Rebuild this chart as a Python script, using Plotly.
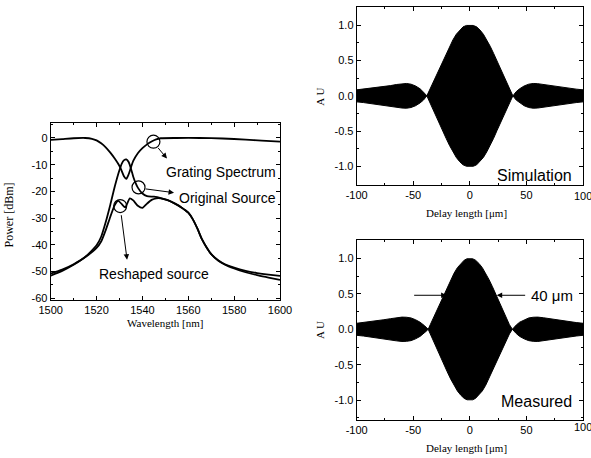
import plotly.graph_objects as go

W, H = 591, 458

# ---- Spectra: wavelength (nm) -> power (dBm) ----
grating_wl = [1500, 1505, 1510, 1515, 1518, 1520, 1522, 1524, 1526, 1528, 1530, 1531,
              1532, 1533, 1534, 1535, 1536, 1538, 1540, 1542, 1544, 1546, 1548, 1555,
              1565, 1575, 1585, 1592, 1600]
grating_db = [-0.7, -0.4, -0.1, 0.0, -0.3, -0.9, -2.0, -3.5, -5.5, -7.8, -10.5, -12.4,
              -14.4, -15.3, -13.6, -11.0, -8.6, -5.7, -3.8, -2.4, -1.3, -0.5, -0.1, 0.0,
              0.0, -0.2, -0.6, -1.0, -1.4]

source_wl = [1500, 1505, 1510, 1515, 1520, 1522, 1524, 1526, 1528, 1530, 1531, 1532,
             1533, 1534, 1535, 1536, 1537, 1538, 1540, 1542, 1545, 1548, 1551, 1554,
             1557, 1560, 1562, 1564, 1566, 1568, 1570, 1573, 1576, 1580, 1585, 1590,
             1595, 1600]
source_db = [-50.8, -49.3, -47.3, -44.6, -40.2, -37.0, -31.5, -25.0, -18.0, -12.0, -9.6,
             -8.3, -8.0, -9.0, -11.5, -14.5, -16.8, -18.6, -20.8, -21.8, -22.0, -22.5,
             -23.3, -24.5, -26.0, -28.0, -30.5, -34.0, -38.0, -41.0, -43.5, -45.8, -47.3,
             -48.6, -49.8, -50.6, -51.2, -51.7]

reshaped_wl = [1500, 1505, 1510, 1515, 1520, 1522, 1524, 1526, 1528, 1529.5, 1531,
               1532.5, 1534.5, 1536, 1538, 1540, 1542, 1544, 1546, 1548, 1551, 1554,
               1557, 1560, 1562, 1564, 1566, 1568, 1570, 1573, 1576, 1580, 1585, 1590,
               1595, 1600]
reshaped_db = [-51.6, -49.8, -47.5, -44.7, -41.2, -38.8, -34.5, -29.5, -25.0, -23.6,
               -24.8, -26.0, -22.6, -23.4, -25.4, -26.2, -24.6, -23.2, -22.6, -22.6,
               -23.3, -24.5, -26.0, -28.0, -30.5, -34.0, -38.0, -41.0, -43.5, -45.9,
               -47.5, -48.9, -50.3, -51.4, -52.3, -53.2]

# ---- Interferogram envelopes: delay (um) -> AU (upper edge; lower edge mirrored) ----
sim_delay = [-100, -94, -88, -82, -76, -70, -65, -60, -56, -52, -48, -44, -41, -39, -38,
             -36, -33, -30, -27, -24, -21, -18, -15, -12, -9, -6, -3, 0,
             3, 6, 9, 12, 15, 18, 21, 24, 27, 30, 33, 36, 38, 39, 41, 44, 48, 52, 56,
             60, 65, 70, 76, 82, 88, 94, 100]
sim_env = [0.085, 0.095, 0.11, 0.12, 0.13, 0.145, 0.16, 0.172, 0.175, 0.165, 0.14, 0.10,
           0.06, 0.02, 0.0, 0.07, 0.17, 0.28, 0.39, 0.49, 0.60, 0.70, 0.79, 0.87, 0.93,
           0.975, 0.995, 1.0,
           0.995, 0.975, 0.93, 0.87, 0.79, 0.70, 0.60, 0.49, 0.39, 0.28, 0.17, 0.07,
           0.0, 0.02, 0.06, 0.10, 0.14, 0.165, 0.175, 0.172, 0.16, 0.145, 0.13, 0.12,
           0.11, 0.095, 0.085]

meas_delay = [-100, -94, -88, -82, -76, -70, -65, -60, -56, -52, -48, -44, -40, -38, -36.8,
              -35, -32, -29, -26, -23, -20, -17, -14, -11, -8, -5, -2.5, 0,
              2.5, 5, 8, 11, 14, 17, 20, 23, 26, 29, 32, 35, 37.6, 39, 41, 44, 48, 52,
              56, 60, 65, 70, 76, 82, 88, 94, 100]
meas_env = [0.085, 0.095, 0.11, 0.12, 0.135, 0.15, 0.163, 0.172, 0.17, 0.16, 0.135, 0.10,
            0.05, 0.02, 0.0, 0.065, 0.17, 0.28, 0.39, 0.49, 0.60, 0.70, 0.79, 0.87, 0.93,
            0.975, 0.995, 1.0,
            0.995, 0.975, 0.93, 0.87, 0.79, 0.70, 0.60, 0.49, 0.39, 0.28, 0.17, 0.065,
            0.0, 0.03, 0.06, 0.10, 0.135, 0.16, 0.17, 0.172, 0.163, 0.15, 0.135, 0.12,
            0.11, 0.095, 0.085]

# ---- Tick labels ----
wl_ticks = [1500, 1520, 1540, 1560, 1580, 1600]
wl_labels = ["1500", "1520", "1540", "1560", "1580", "1600"]
pw_ticks = [0, -10, -20, -30, -40, -50, -60]
pw_labels = ["0", "-10", "-20", "-30", "-40", "-50", "-60"]
dl_ticks = [-100, -50, 0, 50, 100]
dl_labels = ["-100", "-50", "0", "50", "100"]
au_ticks = [1.0, 0.5, 0.0, -0.5, -1.0]
au_labels = ["1.0", "0.5", "0.0", "-0.5", "-1.0"]

# Marker positions for the callout circles on the spectra
grating_mark = (1544.8, -1.4)
source_mark = (1538.3, -18.5)
reshaped_mark = (1530.3, -25.5)

fig = go.Figure()

line_style = dict(color="black", width=1.8, shape="spline", smoothing=0.6)
fig.add_trace(go.Scatter(x=grating_wl, y=grating_db, mode="lines", line=line_style,
                         xaxis="x", yaxis="y", showlegend=False))
fig.add_trace(go.Scatter(x=source_wl, y=source_db, mode="lines", line=line_style,
                         xaxis="x", yaxis="y", showlegend=False))
fig.add_trace(go.Scatter(x=reshaped_wl, y=reshaped_db, mode="lines", line=line_style,
                         xaxis="x", yaxis="y", showlegend=False))
fig.add_trace(go.Scatter(
    x=[grating_mark[0], source_mark[0], reshaped_mark[0]],
    y=[grating_mark[1], source_mark[1], reshaped_mark[1]],
    mode="markers", xaxis="x", yaxis="y", showlegend=False,
    marker=dict(symbol="circle-open", size=13, color="black", line=dict(width=1.2))))


def envelope(delay, env):
    xs = list(delay) + list(delay[::-1])
    ys = list(env) + [-v for v in env[::-1]]
    return xs, ys


for (d, e), ax in (((sim_delay, sim_env), "2"), ((meas_delay, meas_env), "3")):
    xs, ys = envelope(d, e)
    fig.add_trace(go.Scatter(x=xs, y=ys, mode="lines", fill="toself",
                             fillcolor="black", line=dict(color="black", width=1),
                             xaxis="x" + ax, yaxis="y" + ax, showlegend=False))

tickfont = dict(family="Liberation Sans, Arial", size=11, color="black")
common = dict(showline=True, linecolor="black", linewidth=1, mirror="ticks",
              ticks="inside", ticklen=4, tickcolor="black", showgrid=False,
              zeroline=False, tickmode="array", tickfont=tickfont, automargin=False)


def px(x):
    return x / W


def py(y):
    return 1 - y / H


fig.update_layout(
    width=W, height=H, margin=dict(l=0, r=0, t=0, b=0),
    paper_bgcolor="white", plot_bgcolor="white",
    xaxis=dict(domain=[px(50.7), px(280)], range=[1500, 1600], tickvals=wl_ticks,
               ticktext=wl_labels, anchor="y",
               minor=dict(ticks="inside", ticklen=2, dtick=10, tick0=1500,
                          tickcolor="black"), **common),
    yaxis=dict(domain=[py(300), py(123.3)], range=[-60.7, 5.5], tickvals=pw_ticks,
               ticktext=pw_labels, anchor="x",
               minor=dict(ticks="inside", ticklen=2, dtick=5, tick0=0,
                          tickcolor="black"), **common),
    xaxis2=dict(domain=[px(356.7), px(583)], range=[-100, 100], tickvals=dl_ticks,
                ticktext=dl_labels, anchor="y2",
                minor=dict(ticks="inside", ticklen=2, dtick=25, tick0=0,
                           tickcolor="black"), **common),
    yaxis2=dict(domain=[py(185), py(6.7)], range=[-1.26, 1.26], tickvals=au_ticks,
                ticktext=au_labels, anchor="x2",
                minor=dict(ticks="inside", ticklen=2, dtick=0.25, tick0=0,
                           tickcolor="black"), **common),
    xaxis3=dict(domain=[px(356.7), px(583)], range=[-100, 100], tickvals=dl_ticks,
                ticktext=dl_labels, anchor="y3",
                minor=dict(ticks="inside", ticklen=2, dtick=25, tick0=0,
                           tickcolor="black"), **common),
    yaxis3=dict(domain=[py(420), py(240)], range=[-1.28, 1.26], tickvals=au_ticks,
                ticktext=au_labels, anchor="x3",
                minor=dict(ticks="inside", ticklen=2, dtick=0.25, tick0=0,
                           tickcolor="black"), **common),
)

serif = dict(family="Liberation Serif, Times New Roman", size=11, color="black")
serif_big = dict(family="Liberation Serif, Times New Roman", size=12, color="black")
label = dict(family="Liberation Sans, Arial", size=14, color="black")
big = dict(family="Liberation Sans, Arial", size=16, color="black")

annotations = [
    # axis titles
    dict(text="Power [dBm]", x=px(8.5), y=py(215), textangle=-90, font=serif_big),
    dict(text="Wavelength [nm]", x=px(165), y=py(323), font=serif),
    dict(text="A U", x=px(320), y=py(96.7), textangle=-90, font=serif),
    dict(text="Delay length [\u03bcm]", x=px(466), y=py(213), font=serif),
    dict(text="A U", x=px(320), y=py(330), textangle=-90, font=serif),
    dict(text="Delay length [\u03bcm]", x=px(466), y=py(448), font=serif),
    # callout texts
    dict(text="Grating Spectrum", x=px(220.5), y=py(172), font=label),
    dict(text="Original Source", x=px(227), y=py(197.5), font=label),
    dict(text="Reshaped source", x=px(153.5), y=py(274), font=label),
    dict(text="Simulation", x=px(534), y=py(175), font=big),
    dict(text="Measured", x=px(536), y=py(401.5), font=big),
    dict(text="40 \u03bcm", x=px(552), y=py(295), font=dict(family="Liberation Sans, Arial",
                                                           size=15, color="black")),
]
for a in annotations:
    a.update(xref="paper", yref="paper", showarrow=False, xanchor="center",
             yanchor="middle")

# The last delay tick label runs past the page edge; draw it as free text so it
# is cut by the page rather than dropped by the axis.
for xr, ylab in (("x2", 195.5), ("x3", 426.5)):
    annotations.append(dict(text=dl_labels[-1], x=dl_ticks[-1], xref=xr, y=py(ylab),
                            yref="paper", showarrow=False, xanchor="center",
                            yanchor="middle", font=tickfont))

arrow = dict(showarrow=True, arrowhead=2, arrowsize=1.1, arrowwidth=1,
             arrowcolor="black", text="")
annotations += [
    dict(x=1550.7, y=-7.7, ax=-10, ay=-12, xref="x", yref="y", **arrow),
    dict(x=1553.8, y=-20.5, ax=-30, ay=-4, xref="x", yref="y", **arrow),
    dict(x=1533.3, y=-45.6, ax=-6, ay=-46, xref="x", yref="y", **arrow),
    dict(x=-20.5, y=0.48, ax=-34, ay=0, xref="x3", yref="y3", **arrow),
    dict(x=23.7, y=0.48, ax=30, ay=0, xref="x3", yref="y3", **arrow),
]
fig.update_layout(annotations=annotations)

fig.write_html("out.html")
